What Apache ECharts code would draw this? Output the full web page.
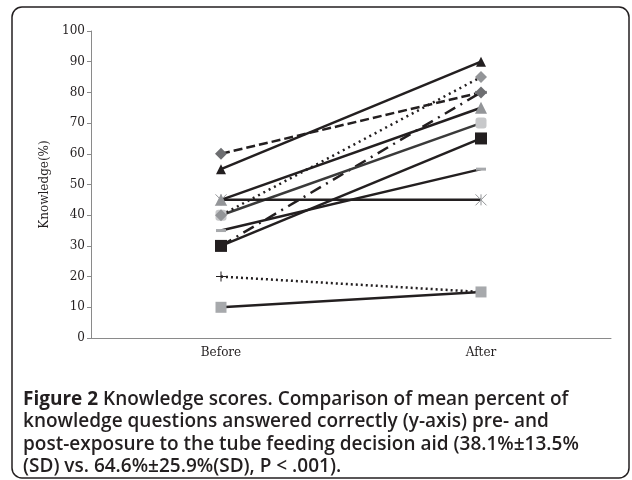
<!DOCTYPE html>
<html><head><meta charset="utf-8">
<script src="https://cdn.jsdelivr.net/npm/echarts@6/dist/echarts.min.js"></script>
<style>html,body{margin:0;padding:0;background:#fff}#c{width:632px;height:480px}</style>
</head><body><div id="c"></div>
<script>
const categories = ['Before', 'After'];
const yTicks = [0, 10, 20, 30, 40, 50, 60, 70, 80, 90, 100];
const s1 = [60, 80];  // dashed, diamond
const s2 = [55, 90];  // solid, black triangle
const s3 = [45, 75];  // solid, gray triangle
const s4 = [45, 45];  // solid, X marker
const s5 = [40, 85];  // dotted, gray diamond
const s6 = [40, 70];  // solid, light square
const s7 = [35, 55];  // solid, dash marker
const s8 = [30, 65];  // solid, black square
const s9 = [30, 80];  // dash-dot, dash marker
const s10 = [20, 15]; // dotted, plus
const s11 = [10, 15]; // solid, gray square

const X_PATH = 'path://M0,0L10,10M10,0L0,10M5,0L5,10';
const PLUS_PATH = 'path://M0,4.5L10,4.5L10,5.5L0,5.5ZM4.5,0L5.5,0L5.5,10L4.5,10Z';

function mk(data, lineType, lineColor, symbol, size, symColor, extra) {
  return Object.assign({
    type: 'line', data: data, symbol: symbol, symbolSize: size,
    showAllSymbol: true, animation: false,
    lineStyle: { width: 2.5, color: lineColor, type: lineType },
    itemStyle: { color: symColor, borderWidth: 0 },
    emphasis: { disabled: true }
  }, extra || {});
}

const chart = echarts.init(document.getElementById('c'));
chart.setOption({
  animation: false,
  grid: { left: 91, top: 31, right: 21, bottom: 142 },
  xAxis: {
    type: 'category', data: categories, boundaryGap: true,
    axisLine: { lineStyle: { color: '#8a8a8a', width: 1 } },
    axisTick: { show: false },
    axisLabel: { color: '#231f20', fontFamily: 'DejaVu Serif', fontSize: 12, margin: 9 }
  },
  yAxis: {
    type: 'value', min: yTicks[0], max: yTicks[yTicks.length - 1], interval: 10,
    name: 'Knowledge(%)', nameLocation: 'middle', nameGap: 38, nameRotate: 90,
    nameTextStyle: { color: '#231f20', fontFamily: 'DejaVu Serif', fontSize: 12 },
    axisLine: { show: true, lineStyle: { color: '#8a8a8a', width: 1 } },
    axisTick: { show: true, length: 4, lineStyle: { color: '#8a8a8a' } },
    splitLine: { show: false },
    axisLabel: { color: '#231f20', fontFamily: 'DejaVu Serif', fontSize: 12, margin: 6 }
  },
  title: {
    left: 18, top: 383,
    text: '{b|Figure 2} Knowledge scores. Comparison of mean percent of\nknowledge questions answered correctly (y-axis) pre- and\npost-exposure to the tube feeding decision aid (38.1%±13.5%\n(SD) vs. 64.6%±25.9%(SD), P < .001).',
    textStyle: {
      fontFamily: 'Open Sans', fontSize: 19, fontWeight: 600, color: '#231f20', lineHeight: 22.5,
      rich: { b: { fontFamily: 'Open Sans', fontSize: 19, fontWeight: 'bold', color: '#231f20', lineHeight: 22.5 } }
    }
  },
  graphic: [{
    type: 'rect', shape: { x: 12, y: 7, width: 617, height: 471, r: 10 },
    style: { fill: 'none', stroke: '#231f20', lineWidth: 1.5 }, silent: true
  }],
  series: [
    mk(s10, [2, 3], '#231f20', PLUS_PATH, 10, '#231f20'),
    mk(s11, 'solid', '#231f20', 'rect', 11, '#a7a9ac'),
    mk(s9, [12, 6, 2, 6], '#231f20', 'rect', [12, 3], '#8a8c8e'),
    mk(s8, 'solid', '#231f20', 'rect', 12, '#231f20'),
    mk(s7, 'solid', '#231f20', 'rect', [10, 3], '#a7a9ac'),
    mk(s6, 'solid', '#3a3a3a', 'roundRect', 11, '#c7c8ca'),
    mk(s5, [2, 4], '#231f20', 'diamond', 12, '#939598'),
    mk(s4, 'solid', '#231f20', X_PATH, 11, '#939598', { itemStyle: { color: 'none', borderColor: '#939598', borderWidth: 1 } }),
    mk(s3, 'solid', '#231f20', 'triangle', 12, '#939598'),
    mk(s2, 'solid', '#231f20', 'triangle', 10, '#231f20'),
    mk(s1, [9, 4], '#231f20', 'diamond', 12, '#6d6e71')
  ]
});
</script></body></html>
